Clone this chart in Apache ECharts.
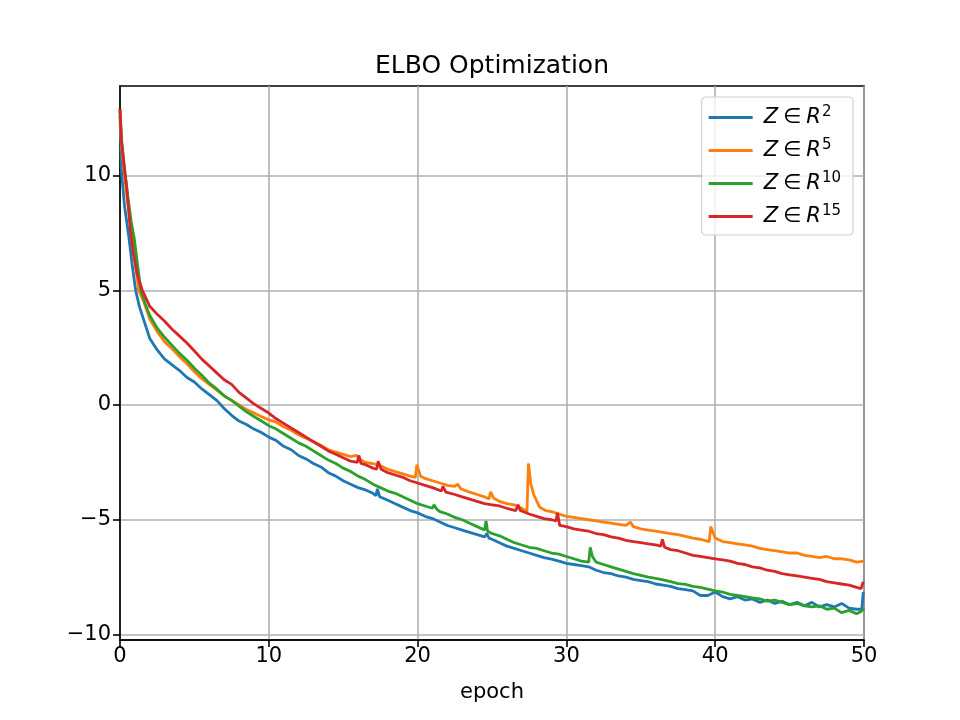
<!DOCTYPE html>
<html>
<head>
<meta charset="utf-8">
<script src="https://cdn.jsdelivr.net/npm/echarts@6/dist/echarts.min.js"></script>
<style>
  html, body { margin: 0; padding: 0; background: #fff; }
  #chart { width: 960px; height: 720px; }
</style>
</head>
<body>
<div id="chart"></div>
<script>
// [epoch, ELBO], one list per latent size
const dim2 = [
  [0,12.6],[0.1,10.2],[0.3,8.7],[0.6,7.3],[0.8,6.2],[1.05,5.0],[1.3,4.3],[1.6,3.7],[2,2.9],[2.5,2.4],
  [3,2.0],[3.5,1.75],[4,1.5],[4.5,1.2],[5,1.0],[5.5,0.7],[6,0.45],[6.5,0.2],[7,-0.15],[7.5,-0.45],
  [8,-0.7],[8.5,-0.85],[9,-1.05],[9.5,-1.2],[10,-1.4],[10.5,-1.55],[11,-1.8],[11.5,-1.95],[12,-2.2],[12.5,-2.35],
  [13,-2.55],[13.5,-2.7],[14,-2.95],[14.5,-3.1],[15,-3.3],[15.5,-3.45],[16,-3.6],[16.5,-3.7],[17,-3.85],[17.2,-3.95],
  [17.3,-3.65],[17.45,-4.0],[18,-4.15],[18.5,-4.3],[19,-4.45],[19.5,-4.6],[20,-4.7],[20.5,-4.85],[21,-4.95],[21.5,-5.1],
  [22,-5.25],[22.5,-5.35],[23,-5.45],[23.5,-5.55],[24,-5.65],[24.5,-5.75],[24.65,-5.6],[24.8,-5.8],[25,-5.85],[25.5,-6.0],
  [26,-6.15],[26.5,-6.25],[27,-6.35],[27.5,-6.45],[28,-6.55],[28.5,-6.65],[29,-6.72],[29.5,-6.8],[30,-6.9],[30.5,-6.95],
  [31,-7.0],[31.5,-7.05],[32,-7.2],[32.5,-7.3],[33,-7.35],[33.5,-7.45],[34,-7.5],[34.5,-7.6],[35,-7.65],[35.5,-7.7],
  [36,-7.8],[36.5,-7.85],[37,-7.9],[37.5,-8.0],[38,-8.05],[38.5,-8.1],[39,-8.3],[39.5,-8.3],[40,-8.15],[40.5,-8.35],
  [41,-8.45],[41.5,-8.35],[42,-8.5],[42.5,-8.45],[43,-8.6],[43.5,-8.5],[44,-8.65],[44.5,-8.55],[45,-8.7],[45.5,-8.6],
  [46,-8.75],[46.5,-8.6],[47,-8.8],[47.5,-8.7],[48,-8.8],[48.5,-8.65],[49,-8.85],[49.5,-8.9],[49.85,-8.9],[49.95,-8.15]
];
const dim5 = [
  [0,12.8],[0.1,11.3],[0.3,10.0],[0.5,8.9],[0.8,7.4],[1,6.3],[1.25,5.0],[1.6,4.5],[2,3.75],[2.5,3.2],
  [3,2.75],[3.5,2.45],[4,2.1],[4.5,1.8],[5,1.45],[5.5,1.15],[6,0.9],[6.5,0.65],[7,0.4],[7.5,0.2],
  [8,0.0],[8.5,-0.2],[9,-0.35],[9.5,-0.5],[10,-0.65],[10.5,-0.75],[11,-0.95],[11.5,-1.1],[12,-1.3],[12.5,-1.45],
  [13,-1.6],[13.5,-1.75],[14,-1.95],[14.5,-2.05],[15,-2.15],[15.5,-2.25],[15.9,-2.2],[16.2,-2.4],[16.5,-2.5],[17,-2.55],
  [17.5,-2.65],[18,-2.8],[18.5,-2.9],[19,-3.0],[19.5,-3.1],[19.85,-3.15],[19.95,-2.6],[20.2,-3.1],[20.5,-3.2],[21,-3.3],
  [21.5,-3.4],[22,-3.5],[22.5,-3.55],[22.7,-3.45],[22.9,-3.65],[23.5,-3.8],[24,-3.9],[24.5,-4.0],[24.8,-4.1],[24.9,-3.78],
  [25.1,-4.05],[25.5,-4.2],[26,-4.3],[26.5,-4.35],[27,-4.5],[27.35,-4.65],[27.45,-2.55],[27.6,-3.4],[27.8,-3.9],[28.2,-4.45],
  [28.6,-4.6],[29,-4.65],[29.5,-4.75],[30,-4.85],[30.5,-4.9],[31,-4.95],[31.5,-5.0],[32,-5.05],[32.5,-5.1],[33,-5.15],
  [33.5,-5.2],[34,-5.25],[34.3,-5.1],[34.5,-5.3],[35,-5.4],[35.5,-5.45],[36,-5.5],[36.5,-5.55],[37,-5.6],[37.5,-5.65],
  [38,-5.72],[38.5,-5.8],[39,-5.85],[39.6,-5.95],[39.7,-5.3],[40,-5.8],[40.5,-5.95],[41,-6.0],[41.5,-6.05],[42,-6.1],
  [42.5,-6.15],[43,-6.25],[43.5,-6.3],[44,-6.35],[44.5,-6.4],[45,-6.45],[45.5,-6.45],[46,-6.55],[46.5,-6.6],[47,-6.65],
  [47.5,-6.6],[48,-6.7],[48.5,-6.7],[49,-6.75],[49.5,-6.85],[50,-6.8]
];
const dim10 = [
  [0,12.9],[0.1,11.6],[0.3,10.3],[0.5,9.2],[0.75,8.0],[0.95,7.3],[1.2,6.0],[1.4,5.0],[1.7,4.4],[2,3.9],
  [2.5,3.35],[3,2.95],[3.5,2.6],[4,2.25],[4.5,1.95],[5,1.6],[5.5,1.3],[6,0.95],[6.5,0.7],[7,0.4],
  [7.5,0.2],[8,-0.05],[8.5,-0.3],[9,-0.5],[9.5,-0.7],[10,-0.9],[10.5,-1.05],[11,-1.25],[11.5,-1.45],[12,-1.65],
  [12.5,-1.8],[13,-2.0],[13.5,-2.2],[14,-2.4],[14.5,-2.55],[15,-2.75],[15.5,-2.9],[16,-3.1],[16.5,-3.25],[17,-3.45],
  [17.5,-3.6],[18,-3.75],[18.5,-3.85],[19,-4.0],[19.5,-4.15],[20,-4.3],[20.5,-4.4],[21,-4.5],[21.1,-4.35],[21.3,-4.55],
  [21.5,-4.65],[22,-4.75],[22.5,-4.9],[23,-5.0],[23.5,-5.15],[24,-5.3],[24.5,-5.45],[24.6,-5.05],[24.7,-5.5],[25,-5.6],
  [25.5,-5.7],[26,-5.85],[26.5,-6.0],[27,-6.1],[27.5,-6.2],[28,-6.25],[28.5,-6.35],[29,-6.45],[29.5,-6.5],[30,-6.6],
  [30.5,-6.7],[31,-6.8],[31.5,-6.85],[31.6,-6.2],[31.75,-6.6],[32,-6.85],[32.5,-6.95],[33,-7.05],[33.5,-7.15],[34,-7.25],
  [34.5,-7.35],[35,-7.42],[35.5,-7.5],[36,-7.55],[36.5,-7.62],[37,-7.7],[37.5,-7.78],[38,-7.82],[38.5,-7.9],[39,-7.95],
  [39.5,-8.02],[40,-8.1],[40.5,-8.15],[41,-8.25],[41.5,-8.3],[42,-8.35],[42.5,-8.4],[43,-8.45],[43.5,-8.55],[44,-8.5],
  [44.5,-8.6],[45,-8.7],[45.5,-8.65],[46,-8.75],[46.5,-8.8],[47,-8.75],[47.5,-8.9],[48,-8.85],[48.5,-9.05],[49,-8.95],
  [49.5,-9.1],[49.8,-9.0],[50,-8.85]
];
const dim15 = [
  [0,12.9],[0.1,11.5],[0.3,10.3],[0.45,9.5],[0.7,7.6],[0.9,6.6],[1.15,5.7],[1.5,5.0],[2,4.3],[2.5,3.95],
  [3,3.65],[3.5,3.3],[4,3.0],[4.5,2.7],[5,2.35],[5.5,2.0],[6,1.7],[6.5,1.4],[7,1.1],[7.5,0.9],
  [8,0.55],[8.5,0.3],[9,0.05],[9.5,-0.15],[10,-0.35],[10.5,-0.6],[11,-0.8],[11.5,-1.0],[12,-1.2],[12.5,-1.4],
  [13,-1.6],[13.5,-1.8],[14,-2.0],[14.5,-2.15],[15,-2.3],[15.5,-2.45],[15.95,-2.5],[16.05,-2.2],[16.2,-2.55],[16.5,-2.6],
  [17,-2.75],[17.25,-2.8],[17.35,-2.45],[17.55,-2.8],[18,-2.95],[18.5,-3.05],[19,-3.15],[19.5,-3.3],[20,-3.4],[20.5,-3.5],
  [21,-3.6],[21.6,-3.75],[21.7,-3.55],[21.9,-3.8],[22.5,-3.9],[23,-4.0],[23.5,-4.1],[24,-4.2],[24.5,-4.3],[25,-4.35],
  [25.5,-4.4],[26,-4.5],[26.6,-4.6],[26.75,-4.35],[26.9,-4.6],[27.5,-4.75],[28,-4.85],[28.5,-4.95],[29,-5.0],[29.3,-5.05],
  [29.4,-4.7],[29.55,-5.25],[30,-5.3],[30.5,-5.4],[31,-5.45],[31.5,-5.5],[32,-5.6],[32.5,-5.65],[33,-5.75],[33.5,-5.8],
  [34,-5.9],[34.5,-5.95],[35,-6.0],[35.5,-6.05],[36,-6.1],[36.35,-6.15],[36.45,-5.85],[36.6,-6.2],[37,-6.3],[37.5,-6.35],
  [38,-6.45],[38.5,-6.55],[39,-6.6],[39.5,-6.65],[40,-6.7],[40.5,-6.75],[41,-6.8],[41.5,-6.9],[42,-6.95],[42.5,-7.05],
  [43,-7.1],[43.5,-7.2],[44,-7.25],[44.5,-7.35],[45,-7.4],[45.5,-7.45],[46,-7.5],[46.5,-7.55],[47,-7.6],[47.5,-7.7],
  [48,-7.75],[48.5,-7.8],[49,-7.85],[49.5,-7.95],[49.8,-8.0],[49.95,-7.7]
];

const seriesNames = ['Z∈R^2', 'Z∈R^5', 'Z∈R^10', 'Z∈R^15'];
const seriesData = [dim2, dim5, dim10, dim15];
const colors = ['#1f77b4', '#ff7f0e', '#2ca02c', '#d62728'];
const xTicks = [0, 10, 20, 30, 40, 50];

const font = 'DejaVu Sans';
const chart = echarts.init(document.getElementById('chart'), null, { renderer: 'canvas' });

const option = {
  animation: false,
  backgroundColor: '#fff',
  color: colors,
  title: {
    text: 'ELBO Optimization',
    left: 487,
    textAlign: 'center',
    top: 49,
    textStyle: { fontFamily: font, fontSize: 25, fontWeight: 'normal', color: '#000' }
  },
  grid: {
    left: 120, right: 96, top: 86, bottom: 80,
    show: true, borderColor: '#000', borderWidth: 1.6, backgroundColor: 'transparent'
  },
  legend: {
    orient: 'vertical',
    right: 107,
    top: 97,
    padding: [8, 12, 8, 7],
    itemGap: 10,
    itemWidth: 44,
    itemHeight: 3,
    icon: 'rect',
    borderColor: '#d0d0d0',
    borderWidth: 1.2,
    borderRadius: 4,
    backgroundColor: 'rgba(255,255,255,0.8)',
    formatter: function (name) {
      const p = name.split('^');
      return '{it|Z}{op|∈}{it|R}{sup|' + p[1] + '}';
    },
    textStyle: {
      fontFamily: font,
      fontSize: 21,
      lineHeight: 21,
      padding: [0, 0, 0, 6],
      rich: {
        it: { fontFamily: font, fontSize: 21, fontStyle: 'italic', color: '#000' },
        op: { fontFamily: font, fontSize: 21, color: '#000', padding: [0, 5, 0, 5] },
        sup: { fontFamily: font, fontSize: 15, color: '#000', padding: [0, 0, 10, 1] }
      }
    },
    data: seriesNames
  },
  xAxis: {
    type: 'value',
    min: 0,
    max: 50,
    interval: 10,
    name: 'epoch',
    nameLocation: 'middle',
    nameGap: 42,
    nameTextStyle: { fontFamily: font, fontSize: 21, color: '#000' },
    axisLine: { show: true, onZero: false, lineStyle: { color: '#000', width: 1.6 } },
    axisTick: { show: true, inside: false, length: 7, lineStyle: { color: '#000', width: 1.6 } },
    axisLabel: {
      fontFamily: font, fontSize: 21, color: '#000', margin: 6,
      formatter: function (v) { return xTicks.indexOf(v) >= 0 ? String(v) : ''; }
    },
    splitLine: { show: true, lineStyle: { color: '#b0b0b0', width: 1.6 } }
  },
  yAxis: {
    type: 'value',
    min: -10.24,
    max: 13.9,
    splitNumber: 5,
    axisLine: { show: true, onZero: false, lineStyle: { color: '#000', width: 1.6 } },
    axisTick: { show: true, inside: false, length: 7, lineStyle: { color: '#000', width: 1.6 } },
    axisLabel: {
      fontFamily: font, fontSize: 21, color: '#000', margin: 9,
      showMinLabel: false, showMaxLabel: false,
      formatter: function (v) {
        if (Math.abs(v % 5) > 1e-6) return '';
        return v < 0 ? '\u2212' + Math.abs(v) : String(v);
      }
    },
    splitLine: { show: true, showMinLine: false, showMaxLine: false, lineStyle: { color: '#b0b0b0', width: 1.6 } }
  },
  series: seriesData.map(function (d, i) {
    return {
      name: seriesNames[i],
      type: 'line',
      data: d,
      symbol: 'none',
      smooth: false,
      lineStyle: { width: 2.8, color: colors[i] },
      z: 2 + i
    };
  })
};

chart.setOption(option);
</script>
</body>
</html>
